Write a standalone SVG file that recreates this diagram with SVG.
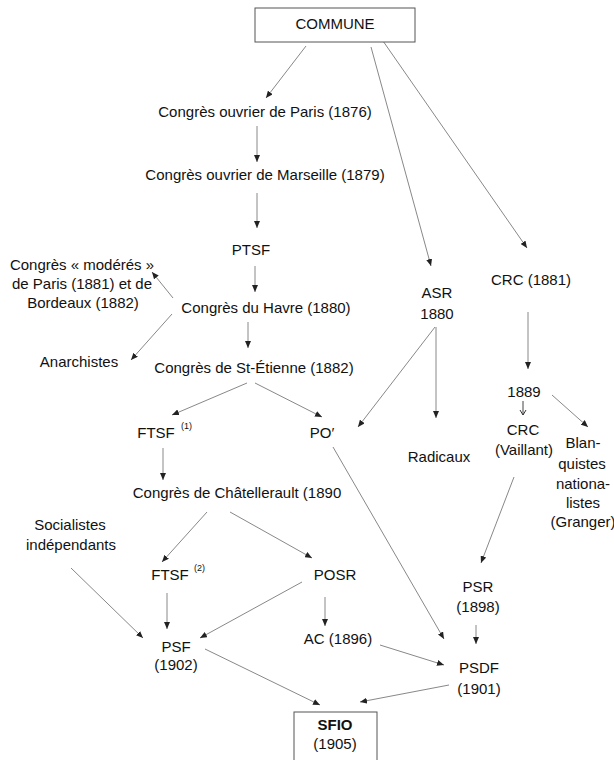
<svg xmlns="http://www.w3.org/2000/svg" width="614" height="760" viewBox="0 0 614 760">
<defs>
<marker id="ah" markerWidth="8" markerHeight="6" refX="7" refY="3" orient="auto" markerUnits="userSpaceOnUse">
<path d="M0,0 L7,3 L0,6 z" fill="#222"/>
</marker>
<marker id="oh" markerWidth="8" markerHeight="8" refX="6" refY="4" orient="auto" markerUnits="userSpaceOnUse">
<path d="M1,1 L6,4 L1,7" fill="none" stroke="#333" stroke-width="1"/>
</marker>
<style>
text{font-family:"Liberation Sans",Arial,Helvetica,sans-serif;font-size:15px;fill:#111;text-anchor:middle}
.sup{font-size:9px;text-anchor:start}
.b{font-weight:bold}
.box{fill:#fff;stroke:#555;stroke-width:1}
#connectors line{stroke:#888;stroke-width:1;marker-end:url(#ah)}
#connectors line.thin{stroke:#444;marker-end:url(#oh)}
</style>
</defs>
<rect width="614" height="760" fill="#fff"/>
<g id="connectors">
<line x1="306" y1="46" x2="266" y2="98"/>
<line x1="371" y1="47" x2="431" y2="266"/>
<line x1="383" y1="41" x2="527" y2="248"/>
<line x1="257" y1="126" x2="257" y2="162"/>
<line x1="257" y1="193" x2="257" y2="228"/>
<line x1="255" y1="266" x2="255" y2="292"/>
<line x1="173" y1="298" x2="152" y2="272"/>
<line x1="172" y1="314" x2="131" y2="360"/>
<line x1="248" y1="322" x2="248" y2="348"/>
<line x1="247" y1="383" x2="172" y2="415"/>
<line x1="255" y1="383" x2="322" y2="417"/>
<line x1="435" y1="327" x2="358" y2="427"/>
<line x1="436" y1="327" x2="436" y2="418"/>
<line x1="528" y1="312" x2="528" y2="369"/>
<line x1="552" y1="395" x2="588" y2="427"/>
<line class="thin" x1="523" y1="401" x2="523" y2="415"/>
<line x1="514" y1="477" x2="481" y2="563"/>
<line x1="333" y1="447" x2="444" y2="639"/>
<line x1="163" y1="448" x2="163" y2="480"/>
<line x1="207" y1="512" x2="162" y2="562"/>
<line x1="230" y1="512" x2="312" y2="558"/>
<line x1="71" y1="568" x2="143" y2="638"/>
<line x1="167" y1="593" x2="167" y2="629"/>
<line x1="302" y1="582" x2="200" y2="638"/>
<line x1="325" y1="597" x2="325" y2="626"/>
<line x1="380" y1="645" x2="444" y2="665"/>
<line x1="476" y1="625" x2="476" y2="644"/>
<line x1="449" y1="685" x2="360" y2="702"/>
<line x1="205" y1="649" x2="320" y2="705"/>
</g>
<g id="commune"><rect class="box" x="255" y="8" width="160" height="34"/><text x="335" y="29">COMMUNE</text></g>
<g id="paris1876"><text x="265" y="117">Congrès ouvrier de Paris (1876)</text></g>
<g id="marseille"><text x="265" y="180">Congrès ouvrier de Marseille (1879)</text></g>
<g id="ptsf"><text x="251" y="255">PTSF</text></g>
<g id="havre"><text x="266" y="313">Congrès du Havre (1880)</text></g>
<g id="moderes"><text x="82" y="270">Congrès « modérés »</text><text x="82" y="289">de Paris (1881) et de</text><text x="83" y="308">Bordeaux (1882)</text></g>
<g id="anarchistes"><text x="79" y="367">Anarchistes</text></g>
<g id="stetienne"><text x="254" y="373">Congrès de St-Étienne (1882)</text></g>
<g id="ftsf1"><text x="156" y="438">FTSF</text><text class="sup" x="181" y="429">(1)</text></g>
<g id="po"><text x="322" y="438">PO′</text></g>
<g id="asr"><text x="437" y="298">ASR</text><text x="437" y="319">1880</text></g>
<g id="radicaux"><text x="439" y="462">Radicaux</text></g>
<g id="crc1881"><text x="531" y="285">CRC (1881)</text></g>
<g id="crc1889"><text x="524" y="397">1889</text><text x="523" y="435">CRC</text><text x="524" y="455">(Vaillant)</text></g>
<g id="blanquistes"><text x="583" y="448">Blan-</text><text x="582" y="469">quistes</text><text x="583" y="489">nationa-</text><text x="583" y="508">listes</text><text x="583" y="527">(Granger)</text></g>
<g id="chatellerault"><text x="237" y="498">Congrès de Châtellerault (1890</text></g>
<g id="socialistes"><text x="70" y="530">Socialistes</text><text x="71" y="550">indépendants</text></g>
<g id="ftsf2"><text x="170" y="580">FTSF</text><text class="sup" x="194" y="571">(2)</text></g>
<g id="posr"><text x="335" y="580">POSR</text></g>
<g id="psf"><text x="176" y="652">PSF</text><text x="176" y="670">(1902)</text></g>
<g id="ac"><text x="338" y="644">AC (1896)</text></g>
<g id="psr"><text x="478" y="592">PSR</text><text x="478" y="612">(1898)</text></g>
<g id="psdf"><text x="479" y="673">PSDF</text><text x="479" y="694">(1901)</text></g>
<g id="sfio"><rect class="box" x="294" y="712" width="83" height="54"/><text class="b" x="335" y="730">SFIO</text><text x="335" y="749">(1905)</text></g>
</svg>
